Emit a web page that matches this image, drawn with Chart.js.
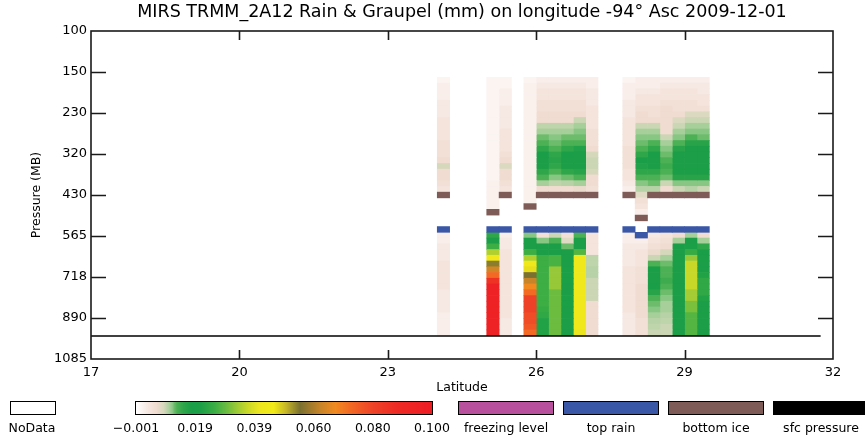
<!DOCTYPE html>
<html lang="en">
<head>
  <meta charset="UTF-8">
  <title>MIRS TRMM_2A12 Rain &amp; Graupel</title>
  <script src="https://cdn.jsdelivr.net/npm/chart.js"></script>
  <style>
    body {
      margin: 0;
      background: #fff;
      font-family: 'DejaVu Sans', sans-serif;
    }
    #wrap {
      position: relative;
      width: 865px;
      height: 438px;
    }
    .box {
      position: absolute;
      top: 401px;
      height: 12px;
      border: 1px solid #000;
    }
    .lab {
      position: absolute;
      top: 420px;
      font-size: 12.5px;
      color: #000;
      white-space: nowrap;
      transform: translateX(-50%);
    }
  </style>
</head>
<body>
  <div id="wrap">
    <canvas id="chart" width="865" height="438"></canvas>
    <div id="legend"></div>
  </div>

  <script>
    // y axis: pressure levels drawn evenly spaced (axis units = level index)
    const pressureLabels = ['100', '150', '230', '320', '430', '565', '718', '890', '1085'];

    // column centres (latitude) of the cross-section
    const latCenters = [24.125, 25.125, 25.375, 25.875, 26.125, 26.375, 26.625, 26.875, 27.125,
                        27.875, 28.125, 28.375, 28.625, 28.875, 29.125, 29.375];

    // layer grid in level-index units: 45 layers from top
    const rowStart = 1.13;
    const rowStep = 0.14;

    // rain & graupel (mm), one array per column, layer 0 at top
    const col2400 = [
      .001,.002,.002,.002,.003,.003,.003,.004,.004,.004,.004,.005,.005,.005,.006,.0085,.006,.006,.005,.004,
      0,0,0,0,0,0,0,
      .002,.002,.003,.003,.003,.004,.004,.004,.004,.004,.003,.003,.003,.003,.002,.002,.002,.002];
    const col2500 = [
      .001,.001,.001,.001,.001,.001,.001,.001,.001,.001,.001,.001,.001,.001,.001,.001,.001,.001,.0015,.0015,
      .0015,.0015,.0015,0,0,0,0,
      .015,.019,.026,.035,.044,.054,.063,.072,.085,.095,.095,.095,.095,.095,.095,.095,.095,.095];
    const col2525 = [
      .001,.001,.002,.002,.002,.003,.003,.003,.003,.004,.004,.004,.004,.005,.006,.008,.006,.006,.005,.004,
      0,0,0,0,0,0,0,
      .002,.003,.003,.004,.004,.004,.004,.004,.004,.004,.004,.004,.004,.004,.004,.003,.003,.003];
    const col2575 = [
      .001,.0015,.0015,.0015,.0015,.0015,.0015,.0015,.0015,.0015,.0015,.0015,.0015,.0015,.0015,.0015,.0015,.0015,.0015,.0015,
      .0015,.0015,0,0,0,0,0,
      .0115,.019,.019,.026,.035,.044,.047,.055,.062,.067,.072,.08,.08,.08,.078,.078,.076,.072];
    const col2600 = [
      .002,.003,.004,.004,.005,.005,.006,.006,.0095,.0105,.012,.013,.015,.018,.019,.019,.015,.013,.0105,.006,
      0,0,0,0,0,0,0,
      .005,.0115,.019,.019,.026,.026,.026,.026,.026,.026,.026,.026,.026,.025,.024,.022,.022,.022];
    const col2625 = [
      .002,.003,.004,.004,.005,.005,.006,.006,.0095,.0105,.0115,.012,.013,.015,.016,.015,.013,.0115,.0095,.006,
      0,0,0,0,0,0,0,
      .009,.013,.019,.019,.027,.027,.033,.033,.033,.033,.03,.03,.03,.03,.03,.03,.03,.03];
    const col2650 = [
      .002,.003,.004,.004,.005,.005,.006,.006,.0095,.0105,.012,.013,.015,.018,.019,.019,.015,.012,.0098,.006,
      0,0,0,0,0,0,0,
      .005,.0075,.012,.019,.019,.019,.02,.02,.02,.019,.019,.02,.02,.019,.019,.019,.019,.019];
    const col2675 = [
      .002,.003,.004,.004,.005,.005,.006,.009,.0105,.0115,.012,.013,.017,.019,.019,.019,.016,.013,.0105,.0065,
      0,0,0,0,0,0,0,
      .013,.019,.019,.028,.044,.044,.044,.044,.044,.044,.044,.044,.044,.044,.044,.044,.044,.041];
    const col2700 = [
      .002,.002,.003,.003,.003,.004,.004,.004,.004,.005,.005,.005,.006,.0085,.009,.009,.0085,.006,.006,.005,
      0,0,0,0,0,0,0,
      .004,.004,.004,.004,.0095,.0095,.0098,.0098,.009,.009,.009,.009,.006,.006,.006,.006,.006,.006];
    const col2775 = [
      .001,.002,.002,.002,.003,.003,.003,.004,.004,.004,.004,.004,.005,.005,.005,.005,.004,.004,.003,.002,
      0,0,0,0,0,0,0,
      .002,.002,.003,.003,.003,.003,.004,.004,.004,.004,.004,.004,.004,.004,.003,.003,.003,.003];
    const col2800 = [
      .002,.002,.003,.004,.004,.005,.006,.006,.009,.0105,.0115,.012,.013,.015,.018,.017,.015,.013,.0115,.0098,
      .0075,.005,.004,.002,0,0,0,
      0,.002,.003,.004,.004,.004,.005,.005,.005,.006,.006,.006,.006,.006,.006,.005,.005,.005];
    const col2825 = [
      .002,.002,.003,.004,.004,.005,.005,.006,.009,.0105,.0115,.013,.015,.018,.019,.019,.015,.013,.012,.0098,
      0,0,0,0,0,0,0,
      .003,.004,.005,.0065,.009,.013,.018,.019,.019,.018,.016,.013,.012,.0115,.0105,.0098,.0095,.009];
    const col2850 = [
      .002,.003,.004,.004,.005,.006,.006,.006,.006,.006,.009,.0105,.0115,.012,.013,.014,.013,.012,.009,.006,
      0,0,0,0,0,0,0,
      .004,.005,.006,.0085,.0105,.012,.013,.013,.014,.013,.012,.0115,.0105,.0105,.0098,.0095,.009,.009];
    const col2875 = [
      .002,.003,.004,.004,.005,.005,.006,.008,.009,.0105,.0115,.013,.016,.019,.019,.019,.019,.016,.0115,.009,
      0,0,0,0,0,0,0,
      .006,.0105,.018,.019,.019,.019,.019,.019,.019,.019,.019,.019,.019,.019,.019,.019,.019,.019];
    const col2900 = [
      .002,.003,.004,.004,.005,.005,.008,.009,.0105,.0115,.013,.016,.019,.019,.019,.019,.019,.016,.0115,.0098,
      0,0,0,0,0,0,0,
      .0105,.019,.02,.025,.033,.037,.037,.037,.037,.037,.034,.034,.031,.031,.028,.028,.028,.028];
    const col2925 = [
      .002,.003,.003,.004,.004,.005,.008,.009,.0105,.0115,.012,.016,.019,.019,.019,.019,.019,.016,.0115,.009,
      0,0,0,0,0,0,0,
      .006,.0105,.015,.018,.019,.019,.019,.022,.024,.024,.024,.022,.019,.019,.019,.019,.019,.019];

    const columns = [col2400, col2500, col2525, col2575, col2600, col2625, col2650, col2675, col2700,
                     col2775, col2800, col2825, col2850, col2875, col2900, col2925];

    // layer holding bottom ice / top rain in each column
    const bottomIceRow = [20, 23, 20, 22, 20, 20, 20, 20, 20, 20, 24, 20, 20, 20, 20, 20];
    const topRainRow   = [26, 26, 26, 26, 26, 26, 26, 26, 26, 26, 27, 26, 26, 26, 26, 26];

    // surface pressure line (level index) and its latitude extent
    const sfcLevel = 7.44;
    const sfcLats = [17, 31.75];

    // colour table
    const cmap = [
      [-0.001, '#ffffff'], [0.001, '#fbf4f1'], [0.003, '#f6e8e2'], [0.006, '#f0dcd0'],
      [0.0085, '#d6d8bc'], [0.0105, '#a6cf9a'], [0.0115, '#88c684'], [0.012, '#6cbc6c'],
      [0.013, '#4cb054'], [0.015, '#30a64a'], [0.018, '#1a9e48'], [0.021, '#1c9f46'],
      [0.026, '#3cae44'], [0.030, '#6cbc40'], [0.034, '#a4cc34'], [0.037, '#c8d828'],
      [0.041, '#ece620'], [0.046, '#f2ea18'], [0.050, '#c8b828'], [0.055, '#7a7030'],
      [0.062, '#c88428'], [0.067, '#f08a20'], [0.072, '#f26a24'], [0.080, '#ee4228'],
      [0.088, '#ee2a24'], [0.100, '#ee1c24']
    ];
    const cbarTicks = ['\u22120.001', '0.019', '0.039', '0.060', '0.080', '0.100'];
    const legendItems = [
      { label: 'freezing level', color: '#b8509e' },
      { label: 'top rain', color: '#3a56a6' },
      { label: 'bottom ice', color: '#7f5b57' },
      { label: 'sfc pressure', color: '#000000' }
    ];

    const hex = c => [1, 3, 5].map(i => parseInt(c.substr(i, 2), 16));
    function colorFor(v) {
      for (let i = 1; i < cmap.length; i++) {
        if (v <= cmap[i][0]) {
          const [v0, c0] = cmap[i - 1];
          const [v1, c1] = cmap[i];
          const t = Math.max(0, (v - v0) / (v1 - v0));
          const a = hex(c0), b = hex(c1);
          return `rgb(${a.map((x, j) => Math.round(x + (b[j] - x) * t)).join(',')})`;
        }
      }
      return cmap[cmap.length - 1][1];
    }

    const layer = k => [rowStart + k * rowStep, rowStart + (k + 1) * rowStep];

    const cellSets = columns.map((vals, c) => ({
      type: 'bar',
      order: 2,
      grouped: false,
      barPercentage: 1,
      categoryPercentage: 1,
      data: vals.map((v, k) => ({ x: latCenters[c], y: layer(k), v })).filter(d => d.v > 0),
      backgroundColor: ctx => ctx.raw ? colorFor(ctx.raw.v) : '#fff'
    }));

    const markerSet = (rows, color) => ({
      type: 'bar',
      order: 1,
      grouped: false,
      barPercentage: 1,
      categoryPercentage: 1,
      data: latCenters.map((x, c) => ({ x, y: layer(rows[c]) })),
      backgroundColor: color
    });

    const sfcSet = {
      type: 'line',
      order: 0,
      data: sfcLats.map(x => ({ x, y: sfcLevel })),
      borderColor: '#000',
      borderWidth: 1.6,
      pointRadius: 0
    };

    // plot frame with inward tick marks
    const frame = {
      id: 'frame',
      afterDraw(chart) {
        const { ctx, chartArea: a, scales: { x, y } } = chart;
        ctx.save();
        ctx.strokeStyle = '#1a1a1a';
        ctx.lineWidth = 1.6;
        ctx.strokeRect(a.left, a.top, a.right - a.left, a.bottom - a.top);
        ctx.beginPath();
        x.ticks.forEach(t => {
          if (t.value <= x.min || t.value >= x.max) return;
          const px = Math.round(x.getPixelForValue(t.value)) + 0.5;
          ctx.moveTo(px, a.bottom); ctx.lineTo(px, a.bottom - 9);
          ctx.moveTo(px, a.top); ctx.lineTo(px, a.top + 9);
        });
        y.ticks.forEach(t => {
          if (t.value <= y.min || t.value >= y.max) return;
          const py = Math.round(y.getPixelForValue(t.value)) + 0.5;
          ctx.moveTo(a.left, py); ctx.lineTo(a.left + 15, py);
          ctx.moveTo(a.right, py); ctx.lineTo(a.right - 15, py);
        });
        ctx.stroke();
        ctx.restore();
      }
    };

    Chart.defaults.font.family = "'DejaVu Sans', sans-serif";
    Chart.defaults.color = '#000';

    new Chart(document.getElementById('chart'), {
      type: 'bar',
      data: {
        datasets: [
          sfcSet,
          markerSet(topRainRow, legendItems[1].color),
          markerSet(bottomIceRow, legendItems[2].color),
          ...cellSets
        ]
      },
      options: {
        responsive: false,
        animation: false,
        layout: { padding: { left: 0, right: 32, top: 0, bottom: 41 } },
        plugins: {
          legend: { display: false },
          tooltip: { enabled: false }
        },
        scales: {
          x: {
            type: 'linear',
            position: 'bottom',
            min: 17,
            max: 32,
            offset: false,
            grid: { display: false, drawTicks: false },
            border: { display: false },
            ticks: { stepSize: 3, padding: 6, maxRotation: 0, autoSkip: false, font: { size: 13 } },
            title: { display: true, text: 'Latitude', font: { size: 12.5 }, padding: { top: 0, bottom: 2 } },
            afterFit: s => { s.height = 38; }
          },
          xTop: {
            type: 'linear',
            position: 'top',
            min: 17,
            max: 32,
            offset: false,
            grid: { display: false, drawTicks: false },
            border: { display: false },
            ticks: { display: false },
            title: {
              display: true,
              text: 'MIRS TRMM_2A12 Rain & Graupel (mm) on longitude -94\u00b0 Asc 2009-12-01',
              font: { size: 17.5 },
              padding: { top: 2, bottom: 0 }
            },
            afterFit: s => { s.height = 31; }
          },
          y: {
            type: 'linear',
            min: 0,
            max: 8,
            reverse: true,
            grid: { display: false, drawTicks: false },
            border: { display: false },
            ticks: { stepSize: 1, padding: 4, font: { size: 13 }, callback: v => pressureLabels[v] },
            title: { display: true, text: 'Pressure (MB)', font: { size: 12.5 }, padding: { top: 29, bottom: 0 } },
            afterFit: s => { s.width = 91; }
          }
        }
      },
      plugins: [frame]
    });

    // legend strip under the plot
    const legend = document.getElementById('legend');
    const addBox = (left, width, bg) => {
      const d = document.createElement('div');
      d.className = 'box';
      d.style.left = left + 'px';
      d.style.width = width + 'px';
      d.style.background = bg;
      legend.appendChild(d);
    };
    const addLabel = (center, text) => {
      const d = document.createElement('div');
      d.className = 'lab';
      d.style.left = center + 'px';
      d.textContent = text;
      legend.appendChild(d);
    };

    addBox(10, 44, '#fff');
    addLabel(32, 'NoData');

    const cbLeft = 135, cbWidth = 296;
    const grad = cmap.map(([v, c]) => `${c} ${((v + 0.001) / 0.101 * 100).toFixed(2)}%`).join(',');
    addBox(cbLeft, cbWidth, `linear-gradient(to right, ${grad})`);
    cbarTicks.forEach((t, i) => addLabel(cbLeft + 1 + i * (cbWidth / (cbarTicks.length - 1)), t));

    const itemLefts = [458, 563, 668, 773];
    legendItems.forEach((it, i) => {
      addBox(itemLefts[i], 94, it.color);
      addLabel(itemLefts[i] + 48, it.label);
    });
  </script>
</body>
</html>
